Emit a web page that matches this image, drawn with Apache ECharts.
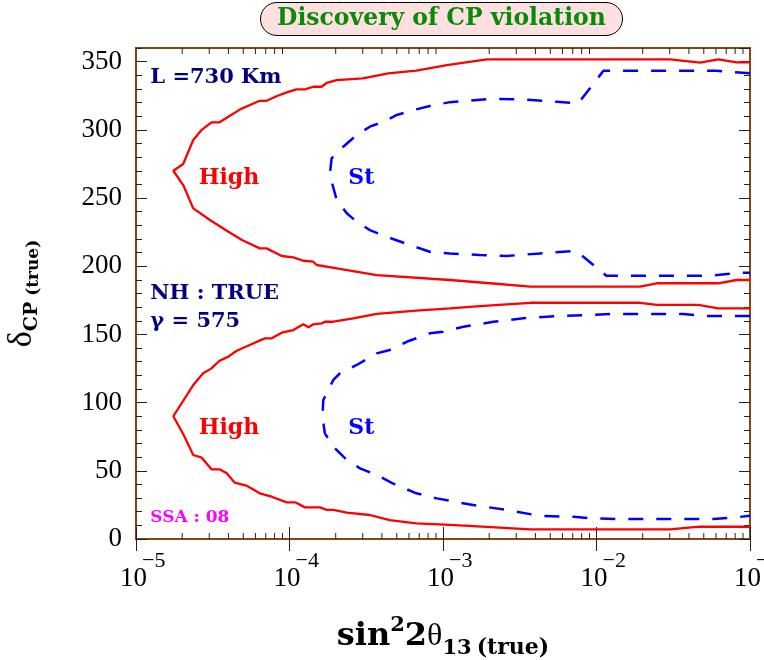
<!DOCTYPE html>
<html>
<head>
    <meta charset="UTF-8">
    <title>Discovery of CP violation</title>
    <script type="text/javascript" src="https://cdn.jsdelivr.net/npm/echarts@6/dist/echarts.min.js"></script>
</head>
<style type="text/css">
html, body { margin: 0; padding: 0; background: #fff; }
#chart { width: 764px; height: 660px; }
</style>
<body>
    <div id="chart"></div>
</body>
</html>

<script type="text/javascript">
// curves: [sin^2 2theta13, deltaCP]
var highUpper = [
    [0.1, 349.5], [0.0818, 349.5], [0.0621, 351.7], [0.0472, 349.3], [0.0301, 351.7],
    [0.00193, 351.7], [0.00106, 347.5], [6.7e-4, 343.4], [4.4e-4, 341.4], [3.0e-4, 337.8],
    [2.03e-4, 336.5], [1.75e-4, 334.5], [1.62e-4, 331.6], [1.43e-4, 331.6], [1.26e-4, 329.7],
    [1.11e-4, 329.7], [9.6e-5, 327.5], [8.3e-5, 324.8], [7.1e-5, 321.3], [6.4e-5, 321.3],
    [4.8e-5, 315.2], [4.0e-5, 309.6], [3.5e-5, 305.5], [3.1e-5, 305.5], [2.68e-5, 300],
    [2.36e-5, 292.5], [2.03e-5, 275], [1.75e-5, 270],
    [2.03e-5, 259.5], [2.36e-5, 242.4], [3.03e-5, 233.9], [4.0e-5, 225.3], [4.9e-5, 219.2],
    [6.4e-5, 213.1], [7.1e-5, 213.1], [8.9e-5, 207.5], [1.06e-4, 206.5], [1.23e-4, 204],
    [1.43e-4, 203.3], [1.5e-4, 200.9], [2.03e-4, 198.5], [3.7e-4, 193.5], [1.11e-3, 189.9],
    [2.02e-3, 187.5], [3.7e-3, 185], [0.0192, 185], [0.0247, 187.5], [0.0621, 187.5],
    [0.0818, 189.9], [0.1, 189.9]
];
var stUpper = [
    [0.1, 341.4], [0.0607, 343.3], [0.0111, 343.3], [0.0076, 319.4], [0.0055, 320.6],
    [0.00334, 322.3], [0.00202, 322.6], [0.00111, 320.3], [8.2e-4, 317.5], [6.4e-4, 314.5],
    [5.0e-4, 310.9], [4.1e-4, 306], [3.34e-4, 302.3], [2.74e-4, 296.2], [2.24e-4, 287.6],
    [1.88e-4, 279.1], [1.84e-4, 269.3], [1.91e-4, 259.5], [2.03e-4, 248.5], [2.36e-4, 238.8],
    [2.74e-4, 232.6], [3.34e-4, 226.5], [4.3e-4, 221.6], [6.1e-4, 215.5], [8.2e-4, 210.6],
    [1.11e-3, 209.4], [1.74e-3, 208.2], [2.6e-3, 207.5], [4.3e-3, 209.4], [0.0071, 211.1],
    [0.0076, 210], [0.0116, 193], [0.0548, 193], [0.086, 195.2], [0.1, 195.2]
];
var highLower = [
    [0.1, 169.1], [0.0621, 169.1], [0.046, 171.6], [0.0247, 171.6], [0.0192, 173.2],
    [3.7e-3, 173.2], [1.74e-3, 170.8], [1.11e-3, 169.1], [6.7e-4, 167.4], [3.7e-4, 165],
    [2.6e-4, 161.8], [1.93e-4, 159.3], [1.7e-4, 159.3], [1.62e-4, 158.1], [1.43e-4, 157.4],
    [1.33e-4, 155.2], [1.23e-4, 157.4], [1.06e-4, 153.2], [8.9e-5, 151.3], [7.65e-5, 147.1],
    [6.9e-5, 147.1], [5.5e-5, 142.2], [4.5e-5, 137.8], [4.0e-5, 133.7], [3.5e-5, 130.7],
    [3.1e-5, 125.1], [2.74e-5, 121.5], [2.36e-5, 112.9], [1.75e-5, 90],
    [2.03e-5, 77], [2.36e-5, 61.6], [2.68e-5, 59.6], [3.1e-5, 51.1], [3.5e-5, 51.1],
    [3.9e-5, 48.2], [4.4e-5, 41.3], [5.3e-5, 38.9], [6.4e-5, 33.5], [7.65e-5, 31],
    [9.6e-5, 26.9], [1.09e-4, 26.9], [1.26e-4, 23.2], [1.58e-4, 23.2], [1.75e-4, 21.3],
    [1.93e-4, 21.3], [2.36e-4, 19.3], [3.34e-4, 17.6], [4.5e-4, 13.9], [6.7e-4, 11.5],
    [1.11e-3, 10.3], [1.57e-3, 9.5], [3.7e-3, 7.1], [0.0301, 7.1], [0.0472, 9], [0.1, 9]
];
var stLower = [
    [0.1, 163.5], [0.0497, 163.5], [0.0367, 165], [0.0129, 165], [0.0091, 164.2],
    [0.0055, 163.5], [0.00334, 161.8], [0.00213, 159.3], [0.00136, 155.6], [1.0e-3, 152],
    [8.2e-4, 150.8], [5.8e-4, 144.6], [4.5e-4, 138.6], [3.7e-4, 136.1], [2.74e-4, 127.6],
    [2.13e-4, 121.5], [1.93e-4, 116.6], [1.66e-4, 101.9], [1.64e-4, 89.7], [1.7e-4, 77.5],
    [1.93e-4, 67.7], [2.36e-4, 57.9], [2.88e-4, 51.8], [3.7e-4, 46.9], [4.7e-4, 40.8],
    [6.7e-4, 33.5], [9.1e-4, 29.8], [1.57e-3, 24.9], [2.6e-3, 21.3], [4.3e-3, 16.9],
    [0.0071, 16.3], [0.0091, 15.2], [0.0135, 14.7], [0.0577, 14.7], [0.0778, 15.6], [0.1, 17.1]
];

// text in the frame: [x, y, text, style]
var notes = [
    [1.23e-5, 338.7, 'L =730 Km', 'info'],
    [2.54e-5, 264.7, 'High', 'high'],
    [2.4e-4, 264.7, 'St', 'st'],
    [1.23e-5, 180, 'NH : TRUE', 'info'],
    [1.23e-5, 159.5, '\u03b3 = 575', 'info'],
    [2.54e-5, 81.4, 'High', 'high'],
    [2.4e-4, 81.4, 'St', 'st'],
    [1.23e-5, 15.4, 'SSA : 08', 'ssa']
];

// minor ticks of the log axis, 2..9 in each decade
var decades = [-5, -4, -3, -2];
var minorX = [];
decades.forEach(function (d) {
    for (var k = 2; k <= 9; k++) minorX.push([k * Math.pow(10, d), 0]);
});

var serif = 'Liberation Serif';
var book = 'DejaVu Serif';
var brown = '#8b4513';

var noteStyle = {
    info: { color: '#000080', fontSize: 21 },
    high: { color: '#ff0000', fontSize: 22 },
    st: { color: '#0000ff', fontSize: 22 },
    ssa: { color: '#ff00ff', fontSize: 17 }
};

var myChart = echarts.init(document.getElementById('chart'));

var tickStyle = { color: '#222', width: 1 };

function logAxis(pos, labels) {
    return {
        type: 'log', logBase: 10, min: 1e-5, max: 1e-1, position: pos,
        axisLine: { show: false },
        axisTick: { show: true, inside: true, length: 12, lineStyle: tickStyle },
        splitLine: { show: false },
        axisLabel: labels ? {
            margin: 17,
            fontFamily: serif, color: '#000',
            formatter: function (v) {
                var e = Math.round(Math.log(v) / Math.LN10);
                return '{p|}{e|\u2212' + (-e) + '}\n{z|}{b|10}{q|}';
            },
            rich: {
                p: { width: 38, align: 'left', lineHeight: 10 },
                e: { width: 26, align: 'left', fontSize: 22, fontFamily: serif, lineHeight: 10, color: '#000' },
                z: { width: 16, align: 'left' },
                b: { width: 27, align: 'left', fontSize: 27, fontFamily: serif, lineHeight: 26, color: '#000' },
                q: { width: 21, align: 'left' }
            }
        } : { show: false }
    };
}

function linAxis(pos, step, len, labels) {
    return {
        type: 'value', min: 0, max: 360, interval: step, position: pos,
        axisLine: { show: false },
        axisTick: { show: true, inside: true, length: len, lineStyle: tickStyle },
        splitLine: { show: false },
        axisLabel: labels ? {
            margin: 14, fontFamily: serif, fontSize: 27, color: '#000', showMaxLabel: false
        } : { show: false }
    };
}

var xMain = logAxis('bottom', true);
xMain.name = '{a|sin}{sup|2}{a|2}{th|\u03b8}{sub|13}{t|(true)}';
xMain.nameLocation = 'middle';
xMain.nameGap = 76;
xMain.nameTextStyle = {
    rich: {
        a: { fontFamily: book, fontWeight: 'bold', fontSize: 32, lineHeight: 44, color: '#000' },
        sup: { fontFamily: book, fontWeight: 'bold', fontSize: 21, verticalAlign: 'top', lineHeight: 4, color: '#000' },
        th: { fontFamily: serif, fontSize: 32, lineHeight: 44, color: '#000' },
        sub: { fontFamily: book, fontWeight: 'bold', fontSize: 21, verticalAlign: 'bottom', lineHeight: 18, color: '#000', padding: [0, 5, 0, 0] },
        t: { fontFamily: book, fontWeight: 'bold', fontSize: 22, verticalAlign: 'bottom', lineHeight: 36, color: '#000' }
    }
};

var yMain = linAxis('left', 50, 11, true);
yMain.name = '{d|\u03b4}{sub|CP}{t| (true)}';
yMain.nameLocation = 'middle';
yMain.nameGap = 94;
yMain.nameTextStyle = {
    rich: {
        d: { fontFamily: serif, fontSize: 34, lineHeight: 40, color: '#000' },
        sub: { fontFamily: book, fontWeight: 'bold', fontSize: 19, verticalAlign: 'bottom', lineHeight: 30, color: '#000' },
        t: { fontFamily: book, fontWeight: 'bold', fontSize: 17, verticalAlign: 'bottom', lineHeight: 36, color: '#000' }
    }
};

var option = {
    animation: false,
    backgroundColor: '#fff',
    title: {
        text: 'Discovery of CP violation',
        left: 260, top: 2,
        padding: [5, 17, 5, 17],
        backgroundColor: '#ffe0e0',
        borderColor: '#000', borderWidth: 1, borderRadius: 17,
        textStyle: { fontFamily: book, fontWeight: 'bold', fontSize: 23.5, color: '#0a8a0a' }
    },
    grid: {
        left: 136, right: 14, top: 48, bottom: 121,
        outerBoundsMode: 'none', containLabel: false,
        show: true, borderColor: brown, borderWidth: 2, backgroundColor: 'transparent'
    },
    xAxis: [xMain, logAxis('top', false)],
    yAxis: [
        yMain,
        linAxis('left', 10, 6, false),
        linAxis('right', 50, 11, false),
        linAxis('right', 10, 6, false)
    ],
    series: [
        {
            type: 'line', name: 'High', data: highUpper, showSymbol: false,
            lineStyle: { color: '#ff0000', width: 2.3 }
        },
        {
            type: 'line', name: 'High', data: highLower, showSymbol: false,
            lineStyle: { color: '#ff0000', width: 2.3 }
        },
        {
            type: 'line', name: 'St', data: stUpper, showSymbol: false,
            lineStyle: { color: '#0000ff', width: 2.5, type: [15, 13] }
        },
        {
            type: 'line', name: 'St', data: stLower, showSymbol: false,
            lineStyle: { color: '#0000ff', width: 2.5, type: [15, 13] }
        },
        {
            type: 'custom', silent: true, clip: false,
            data: minorX,
            encode: { x: 0, y: 1 },
            renderItem: function (params, api) {
                var b = api.coord([api.value(0), 0]);
                var t = api.coord([api.value(0), 360]);
                return {
                    type: 'group',
                    children: [
                        { type: 'line', shape: { x1: b[0], y1: b[1], x2: b[0], y2: b[1] - 6 }, style: { stroke: '#222', lineWidth: 1 } },
                        { type: 'line', shape: { x1: t[0], y1: t[1], x2: t[0], y2: t[1] + 6 }, style: { stroke: '#222', lineWidth: 1 } }
                    ]
                };
            }
        },
        {
            type: 'scatter', silent: true, symbolSize: 1,
            itemStyle: { color: 'rgba(0,0,0,0)', opacity: 1 },
            data: notes.map(function (n) {
                var s = noteStyle[n[3]];
                return {
                    value: [n[0], n[1]],
                    label: {
                        show: true, position: 'right', distance: 0, opacity: 1,
                        formatter: n[2],
                        fontFamily: book, fontWeight: 'bold',
                        fontSize: s.fontSize, color: s.color
                    }
                };
            })
        }
    ]
};

myChart.setOption(option);
</script>
